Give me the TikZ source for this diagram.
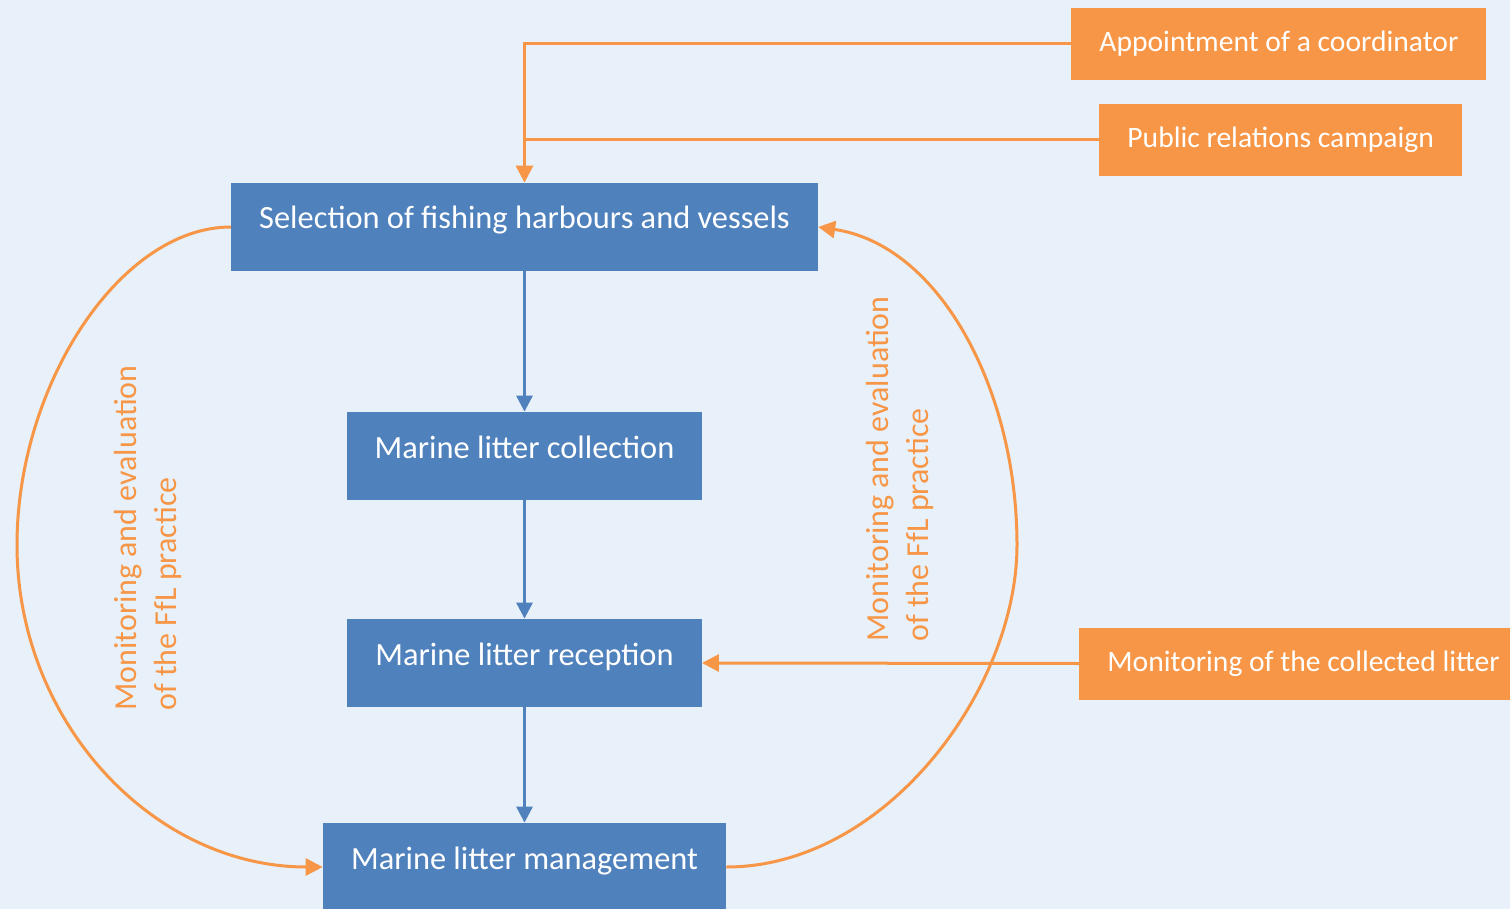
\documentclass[tikz,border=0pt]{standalone}
\usepackage{fontspec}
\setmainfont{Carlito}
\usetikzlibrary{arrows.meta,positioning}
\definecolor{bgblue}{RGB}{232,240,249}
\definecolor{boxblue}{RGB}{79,129,189}
\definecolor{boxorange}{RGB}{247,150,70}

\begin{document}
\begin{tikzpicture} [x=0.5pt,y=-0.5pt,{stage/.style={rectangle,fill=boxblue,text=white,font=\fontsize{16.2}{20}\selectfont,inner xsep=14pt,minimum height=44pt,text height=0.7em,text depth=0.5em}},{task/.style={rectangle,fill=boxorange,text=white,font=\fontsize{14.8}{17}\selectfont,inner xsep=14pt,minimum height=36pt,anchor=west}},{flow/.style={draw=boxblue,line width=1.5pt,-{Triangle[length=8pt,width=8pt]}}},{feed/.style={draw=boxorange,line width=1.5pt,-{Triangle[length=8.5pt,width=8.5pt]}}},{note/.style={text=boxorange,font=\fontsize{16}{20}\selectfont,rotate=90,align=left,anchor=west,inner sep=0pt}}]
		%background
		\fill [bgblue] (0,0) rectangle (1510,909);
		\useasboundingbox (0,0) rectangle (1510,909);
		%%stage nodes
		\node at (524.5,227) [stage] (select) {Selection of fishing harbours and vessels};
		\node at (524.5,456) [stage] (collect) {Marine litter collection};
		\node at (524.5,663) [stage] (receive) {Marine litter reception};
		\node at (524.5,867) [stage] (manage) {Marine litter management};

		%%task nodes
		\node at (1071,44) [task] (coord) {Appointment of a coordinator};
		\node at (1099,140) [task] (campaign) {Public relations campaign};
		\node at (1079,663.5) [task] (monitor) {Monitoring of the collected litter};

		%%notes
		\node at (148,711) [note] (leftnote) {Monitoring and evaluation\\of the FfL practice};
		\node at (900,642) [note] (rightnote) {Monitoring and evaluation\\of the FfL practice};

		%%stage flow
		\draw [flow] (select) -- (collect);
		\draw [flow] (collect) -- (receive);
		\draw [flow] (receive) -- (manage);

		%%feeds
		\coordinate (merge) at (campaign.west -| select.north);
		\draw [feed] (coord.west) -| (select.north);
		\draw [draw=boxorange,line width=1.5pt] (campaign.west) -- (merge);
		\draw [feed] (monitor.west) -- (receive.east);

		%%loops
		\coordinate (leftbend) at (17,545);
		\coordinate (rightbend) at (1017,545);
		\draw [feed] (select.west) .. controls (120,227) and (17,385) .. (leftbend) .. controls (17,723) and (154,867) .. (manage.west);
		\draw [feed] (manage.east) .. controls (886,867) and (1017,689) .. (rightbend) .. controls (1017,390) and (940,245) .. (select.east);
	\end{tikzpicture}
\end{document}
